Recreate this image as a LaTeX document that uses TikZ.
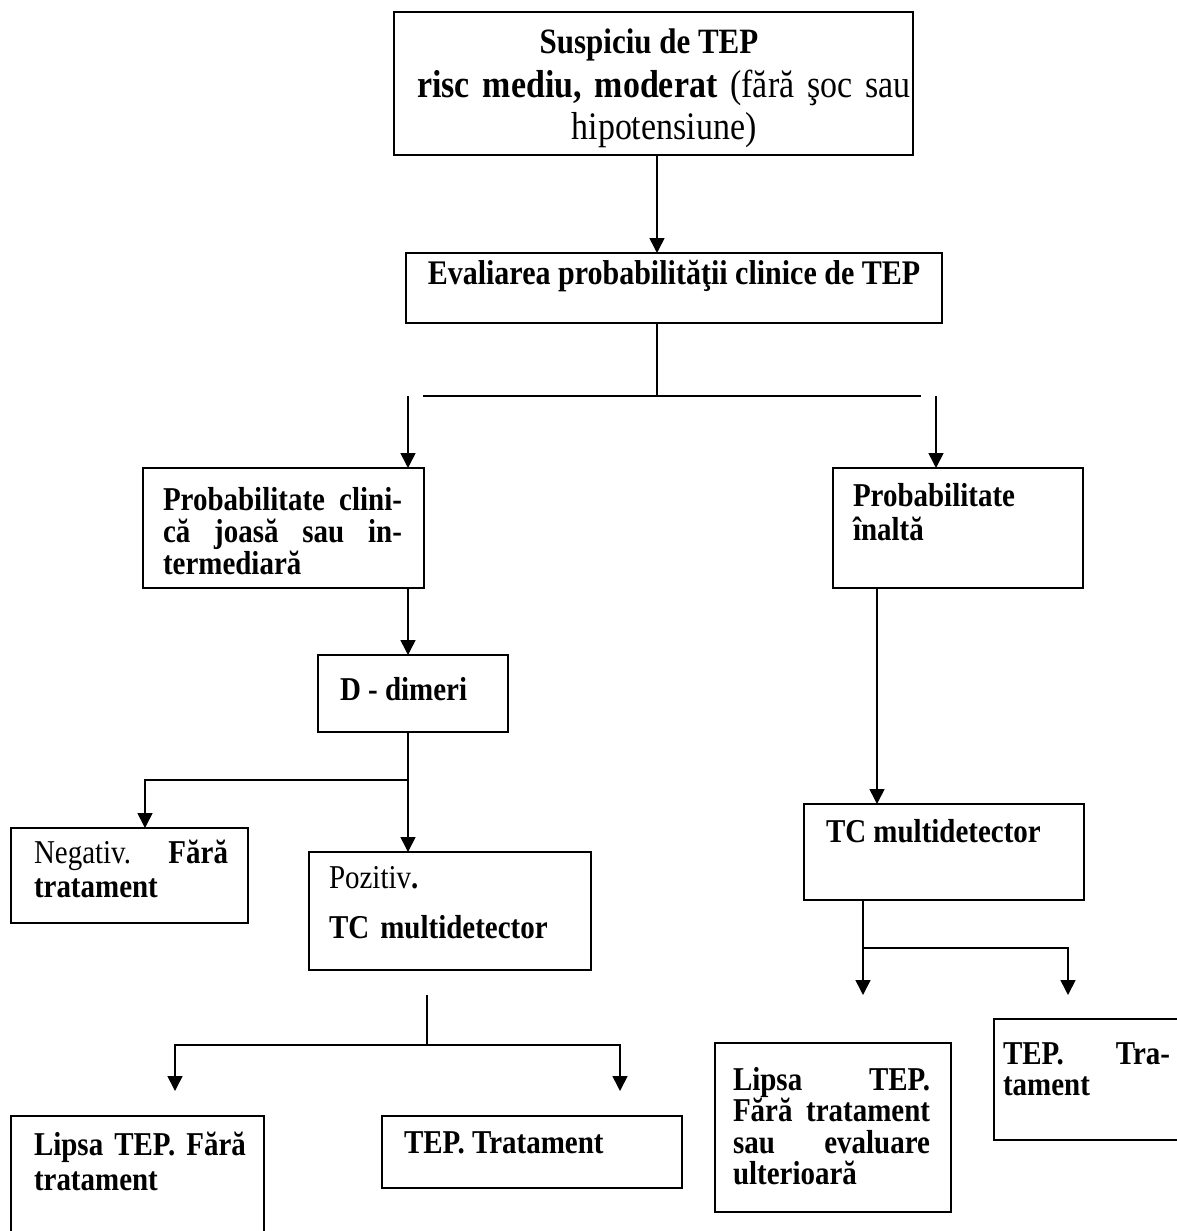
\documentclass[tikz,border=0pt]{standalone}
\usepackage{fontspec}
\setmainfont{Liberation Serif}[FakeStretch=0.87]
\usetikzlibrary{arrows.meta}
\hyphenpenalty=10000 \exhyphenpenalty=10000
\newcommand\fsz[2]{\fontsize{#1}{#2}\selectfont}
\begin{document}
\begin{tikzpicture}[x=1pt,y=-1pt,
  box/.style={draw, line width=1.8pt, rectangle, inner sep=0pt, outer sep=0pt, anchor=north west},
  txt/.style={inner sep=0pt, outer sep=0pt, anchor=base west, align=left},
  jtxt/.style={inner sep=0pt, outer sep=0pt, anchor=base west, align=justify},
  con/.style={line width=1.6pt},
  arr/.style={line width=1.6pt, -{Triangle[length=15pt,width=15pt]}},
  ]
\useasboundingbox (0,0) rectangle (1177,1231);
\fill[white] (0,0) rectangle (1177,1231);
% boxes
\node[box, minimum width=519pt, minimum height=143pt] (b1) at (394,12) {};
\node[box, minimum width=536pt, minimum height=70pt] (b2) at (406,253) {};
\node[box, minimum width=281pt, minimum height=120pt] (b3) at (143,468) {};
\node[box, minimum width=250pt, minimum height=120pt] (b4) at (833,468) {};
\node[box, minimum width=190pt, minimum height=77pt] (b5) at (318,655) {};
\node[box, minimum width=237pt, minimum height=95pt] (b6) at (11,828) {};
\node[box, minimum width=282pt, minimum height=118pt] (b7) at (309,852) {};
\node[box, minimum width=253pt, minimum height=140pt] (b8) at (11,1116) {};
\node[box, minimum width=300pt, minimum height=72pt] (b9) at (382,1116) {};
\node[box, minimum width=280pt, minimum height=96pt] (b10) at (804,804) {};
\node[box, minimum width=236pt, minimum height=169pt] (b11) at (715,1043) {};
\node[box, minimum width=220pt, minimum height=121pt] (b12) at (994,1019) {};
% coordinates
\coordinate (j1) at (657,396);
\coordinate (hl) at (423,396); \coordinate (hr) at (921,396);
\coordinate (al) at (408,396); \coordinate (ar) at (936,396);
\coordinate (j2) at (408,780);
\coordinate (nx) at (145,780);
\coordinate (s3) at (427,995); \coordinate (j3) at (427,1045);
\coordinate (l3) at (175,1045); \coordinate (r3) at (620,1045);
\coordinate (l3e) at (175,1091); \coordinate (r3e) at (620,1091);
\coordinate (rx) at (877,0);
\coordinate (j4) at (863,948); \coordinate (r4) at (1068,948);
\coordinate (j4e) at (863,995); \coordinate (r4e) at (1068,995);
% connectors
\draw[arr] (b1.south -| j1) -- (b2.north -| j1);
\draw[con] (b2.south -| j1) -- (j1);
\draw[con] (hl) -- (hr);
\draw[arr] (al) -- (b3.north -| al);
\draw[arr] (ar) -- (b4.north -| ar);
\draw[arr] (b3.south -| al) -- (b5.north -| al);
\draw[con] (b5.south -| j2) -- (j2);
\draw[arr] (j2) -- (nx) -- (b6.north -| nx);
\draw[arr] (j2) -- (b7.north -| j2);
\draw[con] (s3) -- (j3);
\draw[arr] (j3) -- (l3) -- (l3e);
\draw[arr] (j3) -- (r3) -- (r3e);
\draw[arr] (b4.south -| rx) -- (b10.north -| rx);
\draw[con] (b10.south -| j4) -- (j4);
\draw[arr] (j4) -- (j4e);
\draw[arr] (j4) -- (r4) -- (r4e);
% texts
\node[txt, anchor=base, font=\fsz{35.6}{40}\bfseries] (t1a) at (649,54) {Suspiciu de TEP};
\node[txt, anchor=base, align=center, text width=520pt, font=\fsz{39}{42}] (t1b) at (664,97) {\textbf{risc mediu, moderat} (fără şoc sau\\hipotensiune)};
\node[txt, anchor=base, font=\fsz{34.5}{38}\bfseries] (t2) at (674,284) {Evaliarea probabilităţii clinice de TEP};
\node[jtxt, text width=239pt, font=\fsz{33.3}{32}\bfseries] (t3) at (163,510) {Probabilitate clini-\linebreak că joasă sau in-\linebreak termediară};
\node[txt, text width=220pt, font=\fsz{33.3}{34}\bfseries] (t4) at (853,506) {Probabilitate\\înaltă};
\node[txt, font=\fsz{33.3}{33}\bfseries] (t5) at (340,700) {D - dimeri};
\node[jtxt, text width=194pt, font=\fsz{33.3}{34}] (t6) at (34,863) {Negativ. \textbf{Fără}\linebreak \textbf{tratament}};
\node[txt, text width=260pt, font=\fsz{33.3}{33}] (t7) at (329,888) {Pozitiv\textbf{.}\\[17pt]\textbf{TC multidetector}};
\node[txt, text width=230pt, font=\fsz{33.3}{35}\bfseries] (t8) at (34,1155) {Lipsa TEP. Fără\\tratament};
\node[txt, font=\fsz{33.3}{33}\bfseries] (t9) at (404,1153) {TEP. Tratament};
\node[txt, font=\fsz{33.3}{33}\bfseries] (t10) at (826,842) {TC multidetector};
\node[jtxt, text width=197pt, font=\fsz{33.3}{31.5}\bfseries] (t11) at (733,1090) {Lipsa TEP.\linebreak Fără tratament\linebreak sau evaluare\linebreak ulterioară};
\node[jtxt, text width=167pt, font=\fsz{33.3}{31}\bfseries] (t12) at (1003,1064) {TEP. Tra-\linebreak tament};
\end{tikzpicture}
\end{document}
